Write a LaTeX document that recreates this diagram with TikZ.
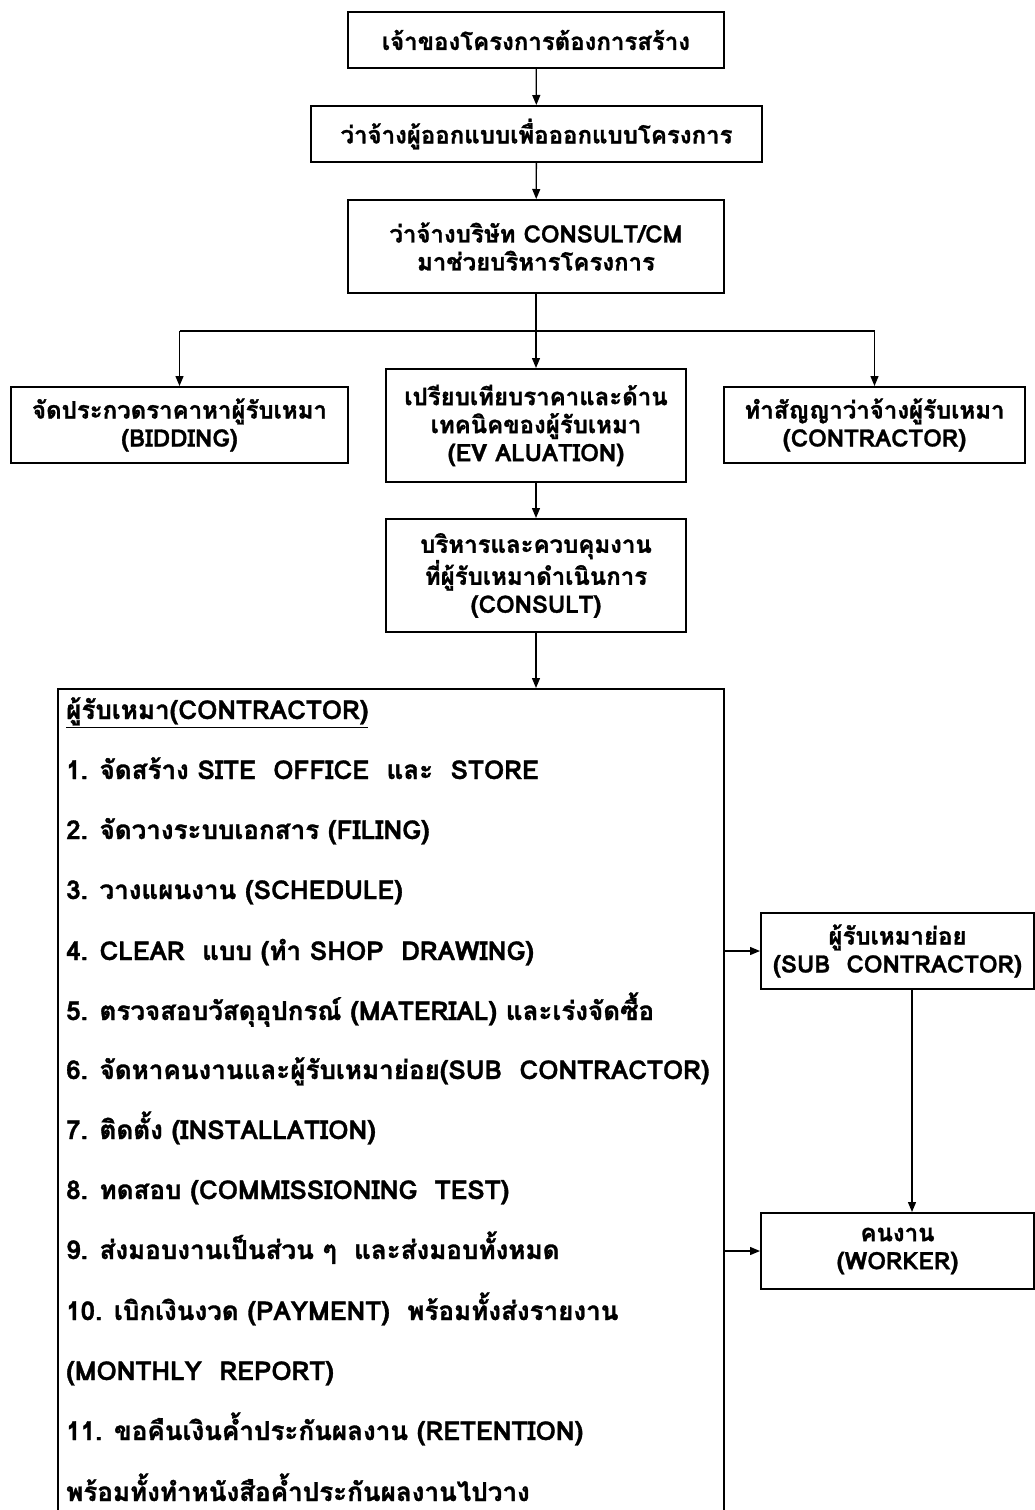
\documentclass[tikz,border=0pt]{standalone}
\usepackage{fontspec}
\setmainfont{Loma}[Script=Thai, BoldFeatures={FakeBold=1.2}]
\usetikzlibrary{arrows.meta}
\tikzset{
  box/.style={draw, line width=2pt, align=center, inner sep=0pt,
    font=\bfseries\fontsize{24}{28}\selectfont},
  item/.style={anchor=base west, inner sep=0pt,
    font=\bfseries\fontsize{26}{30}\selectfont},
  arr/.style={line width=1.3pt, -{Triangle[length=10pt,width=8pt]}}
}
\begin{document}
\begin{tikzpicture}[x=1pt,y=-1pt]
\useasboundingbox (0,0) rectangle (1035,1510);
\clip (0,0) rectangle (1035,1510);
\node[box, minimum width=376, minimum height=56] (own) at (536,40) {เจ้าของโครงการต้องการสร้าง};
\node[box, minimum width=451, minimum height=56] (des) at (536.5,134) {ว่าจ้างผู้ออกแบบเพื่อออกแบบโครงการ};
\node[box, minimum width=376, minimum height=93] (cm) at (536,246.5) {ว่าจ้างบริษัท CONSULT/CM\\มาช่วยบริหารโครงการ};
\node[box, minimum width=337, minimum height=76] (bid) at (179.5,425) {จัดประกวดราคาหาผู้รับเหมา\\(BIDDING)};
\node[box, minimum width=300, minimum height=113] (eva) at (536,425.5) {เปรียบเทียบราคาและด้าน\\เทคนิคของผู้รับเหมา\\(EV ALUATION)};
\node[box, minimum width=301, minimum height=76] (con) at (874.5,425) {ทำสัญญาว่าจ้างผู้รับเหมา\\(CONTRACTOR)};
\node[box, minimum width=300, minimum height=113] (csl) at (536,575.5) {บริหารและควบคุมงาน\\ที่ผู้รับเหมาดำเนินการ\\(CONSULT)};
\node[draw, line width=2pt, minimum width=666.5, minimum height=900, inner sep=0pt, anchor=north] (main) at (390.75,688) {};
\node[box, minimum width=273, minimum height=76] (sub) at (897.5,951) {ผู้รับเหมาย่อย\\(SUB\ \ CONTRACTOR)};
\node[box, minimum width=273, minimum height=76] (wrk) at (897.5,1251) {คนงาน\\(WORKER)};

\node[item] (h0) at (66,719) {\underline{ผู้รับเหมา(CONTRACTOR)}};
\node[item] (h1) at (66,779) {1. จัดสร้าง SITE\ \ OFFICE\ \ และ\ \ STORE};
\node[item] (h2) at (66,839) {2. จัดวางระบบเอกสาร (FILING)};
\node[item] (h3) at (66,899) {3. วางแผนงาน (SCHEDULE)};
\node[item] (h4) at (66,960) {4. CLEAR\ \ แบบ (ทำ SHOP\ \ DRAWING)};
\node[item] (h5) at (66,1020) {5. ตรวจสอบวัสดุอุปกรณ์ (MATERIAL) และเร่งจัดซื้อ};
\node[item] (h6) at (66,1079) {6. จัดหาคนงานและผู้รับเหมาย่อย(SUB\ \ CONTRACTOR)};
\node[item] (h7) at (66,1139) {7. ติดตั้ง (INSTALLATION)};
\node[item] (h8) at (66,1199) {8. ทดสอบ (COMMISSIONING\ \ TEST)};
\node[item] (h9) at (66,1259) {9. ส่งมอบงานเป็นส่วน ๆ\ \ และส่งมอบทั้งหมด};
\node[item] (h10) at (66,1320) {10. เบิกเงินงวด (PAYMENT)\ \ พร้อมทั้งส่งรายงาน};
\node[item] (h11) at (66,1380) {(MONTHLY\ \ REPORT)};
\node[item] (h12) at (66,1440) {11. ขอคืนเงินค้ำประกันผลงาน (RETENTION)};
\node[item] (h13) at (66,1501) {พร้อมทั้งทำหนังสือค้ำประกันผลงานไปวาง};

\draw[arr] (own) -- (des);
\draw[arr] (des) -- (cm);
\coordinate (fork) at (536,331);
\draw[line width=1.3pt] (cm.south) -- (fork);
\draw[line width=1.3pt] (bid.north |- fork) -- (con.north |- fork);
\draw[arr] (bid.north |- fork) -- (bid.north);
\draw[arr] (fork) -- (eva.north);
\draw[arr] (con.north |- fork) -- (con.north);
\draw[arr] (eva) -- (csl);
\draw[arr] (csl.south) -- (csl.south |- main.north);
\draw[arr] (sub.west -| main.east) -- (sub.west);
\draw[arr] (wrk.west -| main.east) -- (wrk.west);
\draw[arr] ([xshift=14.5pt]sub.south) -- ([xshift=14.5pt]sub.south |- wrk.north);
\end{tikzpicture}
\end{document}
